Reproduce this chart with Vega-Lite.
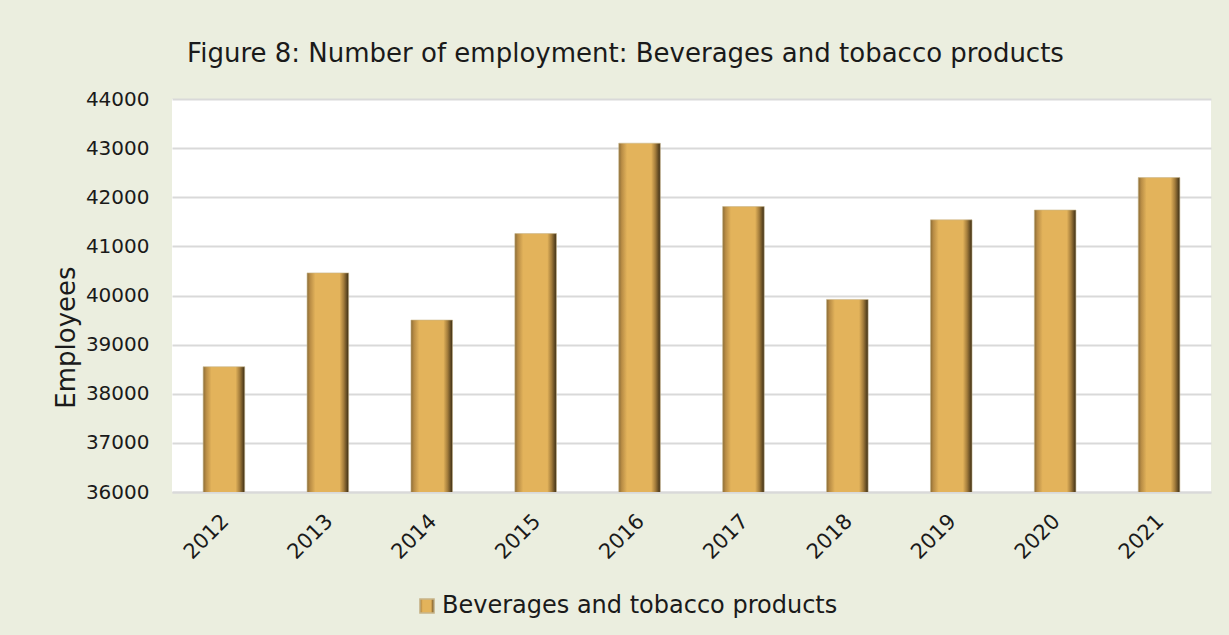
{
  "$schema": "https://vega.github.io/schema/vega-lite/v6.json",
  "width": 1039,
  "height": 393,
  "autosize": {"type": "none"},
  "padding": {"left": 172, "top": 99, "right": 18, "bottom": 143},
  "background": "#EBEEDF",
  "title": {
    "text": "Figure 8: Number of employment: Beverages and tobacco products",
    "font": "DejaVu Sans",
    "fontSize": 26,
    "fontWeight": "normal",
    "color": "#1a1a1a",
    "anchor": "middle",
    "dx": -66,
    "offset": 22
  },
  "data": {
    "values": [
      {"year": "2012", "employees": 38550, "series": "Beverages and tobacco products"},
      {"year": "2013", "employees": 40460, "series": "Beverages and tobacco products"},
      {"year": "2014", "employees": 39500, "series": "Beverages and tobacco products"},
      {"year": "2015", "employees": 41260, "series": "Beverages and tobacco products"},
      {"year": "2016", "employees": 43100, "series": "Beverages and tobacco products"},
      {"year": "2017", "employees": 41810, "series": "Beverages and tobacco products"},
      {"year": "2018", "employees": 39920, "series": "Beverages and tobacco products"},
      {"year": "2019", "employees": 41540, "series": "Beverages and tobacco products"},
      {"year": "2020", "employees": 41740, "series": "Beverages and tobacco products"},
      {"year": "2021", "employees": 42400, "series": "Beverages and tobacco products"}
    ]
  },
  "mark": {
    "type": "bar",
    "clip": true,
    "strokeWidth": 0.6,
    "fill": {
      "gradient": "linear",
      "x1": 0, "y1": 0, "x2": 1, "y2": 0,
      "stops": [
        {"offset": 0, "color": "#8a6b36"},
        {"offset": 0.07, "color": "#b88c45"},
        {"offset": 0.2, "color": "#e3b35b"},
        {"offset": 0.78, "color": "#e3b35b"},
        {"offset": 0.88, "color": "#a47d3c"},
        {"offset": 1, "color": "#3a2c14"}
      ]
    }
  },
  "encoding": {
    "x": {
      "field": "year",
      "type": "nominal",
      "scale": {"paddingInner": 0.6, "paddingOuter": 0.3},
      "axis": {
        "title": null,
        "labelAngle": -45,
        "labelFont": "DejaVu Sans",
        "labelFontSize": 21,
        "labelColor": "#1a1a1a",
        "ticks": false,
        "domainColor": "#d9d9d9",
        "domainWidth": 2,
        "labelPadding": 18,
        "labelOffset": -6
      }
    },
    "y": {
      "field": "employees",
      "type": "quantitative",
      "scale": {"domain": [36000, 44000], "nice": false, "zero": false},
      "axis": {
        "title": "Employees",
        "titleFont": "DejaVu Sans",
        "titleFontSize": 26,
        "titleFontWeight": "normal",
        "titleColor": "#1a1a1a",
        "titleX": -93,
        "titleY": 238,
        "labelFont": "DejaVu Sans",
        "labelFontSize": 20,
        "labelColor": "#1a1a1a",
        "labelPadding": 23,
        "values": [36000, 37000, 38000, 39000, 40000, 41000, 42000, 43000, 44000],
        "format": "d",
        "ticks": false,
        "domain": false,
        "gridColor": "#d9d9d9",
        "gridWidth": 2
      }
    },
    "stroke": {
      "field": "series",
      "type": "nominal",
      "scale": {"range": ["#c8b58a"]},
      "legend": {
        "title": null,
        "orient": "none",
        "legendX": 243,
        "legendY": 495,
        "symbolType": "square",
        "symbolSize": 200,
        "labelFont": "DejaVu Sans",
        "labelFontSize": 24,
        "labelColor": "#1a1a1a",
        "labelLimit": 600,
        "labelOffset": 3,
        "encode": {
          "symbols": {
            "update": {
              "fill": {"value": "#c99a4c"},
              "stroke": {"value": "#6e5228"},
              "strokeWidth": {"value": 1},
              "opacity": {"value": 1}
            }
          }
        }
      }
    }
  },
  "config": {
    "view": {"fill": "#ffffff", "stroke": null}
  }
}
